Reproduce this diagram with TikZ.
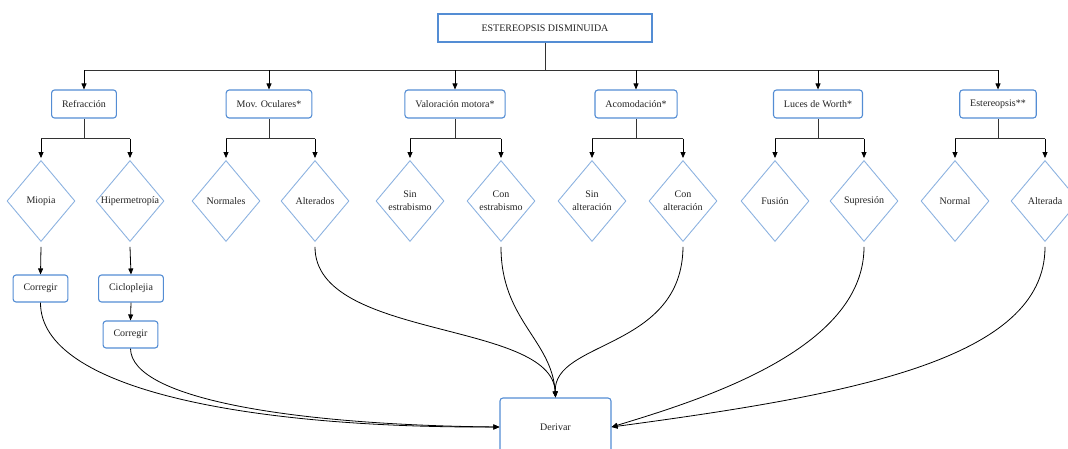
\documentclass[tikz,border=0pt]{standalone}
\usepackage{fontspec}
\setmainfont{Liberation Serif}
\usetikzlibrary{shapes.geometric,arrows.meta}
\definecolor{boxblue}{RGB}{84,141,212}
\definecolor{diablue}{RGB}{140,178,224}
\definecolor{ink}{RGB}{35,35,35}
\begin{document}
\begin{tikzpicture}[x=1pt,y=-1pt,
  font=\fontsize{10}{13}\selectfont, text=ink,
  titlebox/.style={draw=boxblue, line width=1.1pt, fill=white,
    minimum width=214pt, minimum height=28pt},
  box/.style={draw=boxblue, line width=1.1pt, rounded corners=3pt, fill=white,
    minimum height=28pt, inner xsep=10.5pt, inner ysep=2pt},
  smallbox/.style={box, minimum height=27pt},
  dia/.style={diamond, draw=diablue, line width=0.9pt,
    minimum width=68pt, minimum height=81pt, inner sep=0pt},
  arr/.style={-{Triangle[length=6pt,width=5pt]}, line width=0.8pt, black},
  stem/.style={line width=0.8pt, black!80},
]
\useasboundingbox (0,0) rectangle (1068,448);

% root
\node[titlebox] (top) at (545,28) {ESTEREOPSIS DISMINUIDA};

% first level
\node[box] (refr) at (84,104)  {Refracción};
\node[box] (mov)  at (269,104) {Mov. Oculares*};
\node[box] (val)  at (455,104) {Valoración motora*};
\node[box] (aco)  at (636,104) {Acomodación*};
\node[box] (luc)  at (818,104) {Luces de Worth*};
\node[box] (est)  at (998,104) {Estereopsis**};

% decision diamonds
\node[dia] (mio)  at (41,201)   {\makebox[0pt]{Miopia}};
\node[dia] (hip)  at (130,201)  {\makebox[0pt]{Hipermetropía}};
\node[dia] (nor)  at (226,201)  {\makebox[0pt]{Normales}};
\node[dia] (alt)  at (315,201)  {\makebox[0pt]{Alterados}};
\node[dia] (sin)  at (410,201)  {\makebox[0pt]{\begin{tabular}{@{}c@{}}Sin\\estrabismo\end{tabular}}};
\node[dia] (con)  at (501,201)  {\makebox[0pt]{\begin{tabular}{@{}c@{}}Con\\estrabismo\end{tabular}}};
\node[dia] (sina) at (592,201)  {\makebox[0pt]{\begin{tabular}{@{}c@{}}Sin\\alteración\end{tabular}}};
\node[dia] (cona) at (683,201)  {\makebox[0pt]{\begin{tabular}{@{}c@{}}Con\\alteración\end{tabular}}};
\node[dia] (fus)  at (775,201)  {\makebox[0pt]{Fusión}};
\node[dia] (sup)  at (864,201)  {\makebox[0pt]{Supresión}};
\node[dia] (norm) at (955,201)  {\makebox[0pt]{Normal}};
\node[dia] (alta) at (1045,201) {\makebox[0pt]{Alterada}};

% refraction follow-up
\node[smallbox] (cor1) at (40.5,288.5) {Corregir};
\node[smallbox] (cic)  at (131,288.5)  {Cicloplejia};
\node[smallbox] (cor2) at (130.5,334.5) {Corregir};

% referral
\node[draw=boxblue, line width=1.1pt, rounded corners=3pt, fill=white,
  minimum width=111pt, minimum height=58pt] (der) at (555.5,427) {Derivar};

% root bus
\coordinate (bus) at (545,70);
\draw[stem] (top.south) -- (bus);
\draw[stem] (refr.north |- bus) -- (est.north |- bus);
\foreach \p in {refr,mov,val,aco,luc,est}
  \draw[arr] (\p.north |- bus) -- (\p.north);

% branches to the diamonds
\foreach \p/\a/\b in {refr/mio/hip, mov/nor/alt, val/sin/con,
                      aco/sina/cona, luc/fus/sup, est/norm/alta} {
  \draw[stem] (\p.south) -- ++(0,20) coordinate (\p-j);
  \draw[stem] (\a.north |- \p-j) -- (\b.north |- \p-j);
  \draw[arr, shorten >=2pt] (\a.north |- \p-j) -- (\a.north);
  \draw[arr, shorten >=2pt] (\b.north |- \p-j) -- (\b.north);
}

% straight steps
\draw[arr] ([yshift=-5pt]mio.south) -- (cor1.north);
\draw[arr] ([yshift=-5pt]hip.south) -- (cic.north);
\draw[arr] (cic.south) -- (cor2.north);

% curved links to Derivar
\draw[arr] (cor1.south) .. controls (40,390) and (250,428) .. (der.west);
\draw[arr] (cor2.south) .. controls (131,400) and (300,425) .. (der.west);
\draw[arr] ([yshift=-5pt]alt.south) .. controls (315,340) and (552,320) .. (der.north);
\draw[arr] ([yshift=-5pt]con.south) .. controls (501,320) and (552,340) .. (der.north);
\draw[arr] ([yshift=-5pt]cona.south) .. controls (682,350) and (553,340) .. (der.north);
\draw[arr] ([yshift=-5pt]sup.south) .. controls (864,350) and (700,400) .. (der.east);
\draw[arr] ([yshift=-5pt]alta.south) .. controls (1045,360) and (850,395) .. (der.east);
\end{tikzpicture}
\end{document}
